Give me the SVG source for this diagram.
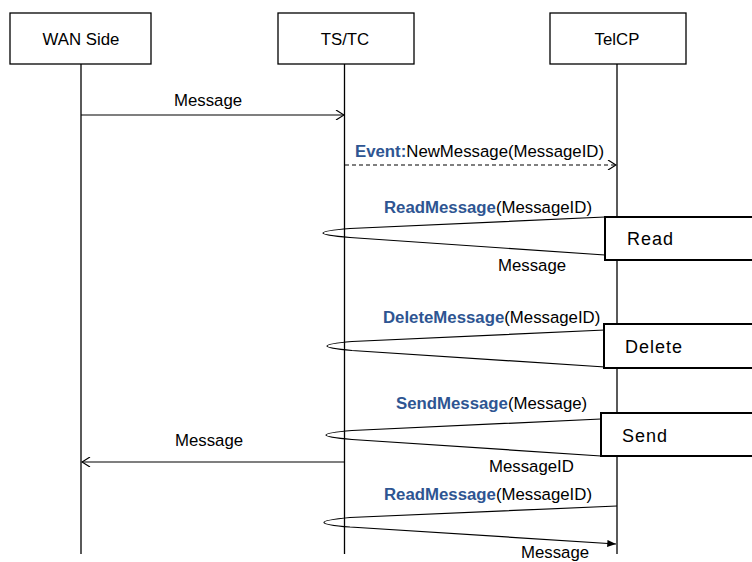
<svg xmlns="http://www.w3.org/2000/svg" width="752" height="562" viewBox="0 0 752 562">
<style>
  text { font-family: "Liberation Sans", Arial, sans-serif; font-size: 16.8px; fill: #000; }
  .b { font-weight: bold; fill: #2E5592; }
  .hdr { fill: #fff; stroke: #000; stroke-width: 1.3; }
  .life { stroke: #000; stroke-width: 1.3; fill: none; }
  .msg { stroke: #000; stroke-width: 1.2; fill: none; }
  .dash { stroke-dasharray: 4 3; }
  .act { fill: #fff; stroke: #000; stroke-width: 2; }
  .acttxt { font-size: 18px; letter-spacing: 1px; }
</style>
<defs>
  <marker id="open" viewBox="0 0 10 10" refX="9" refY="5" markerWidth="10" markerHeight="10" markerUnits="userSpaceOnUse" orient="auto">
    <path d="M1,0 L9,5 L1,10" fill="none" stroke="#000" stroke-width="1.2"/>
  </marker>
  <marker id="fill" viewBox="0 0 10 8" refX="10" refY="4" markerWidth="9" markerHeight="7" markerUnits="userSpaceOnUse" orient="auto">
    <path d="M0,0 L10,4 L0,8 Z" fill="#000"/>
  </marker>
</defs>
<rect width="752" height="562" fill="#fff"/>

<g id="wan">
  <rect class="hdr" x="10" y="13" width="141" height="51"/>
  <text x="81" y="45" text-anchor="middle">WAN Side</text>
  <line class="life" x1="81" y1="64" x2="81" y2="554"/>
</g>
<g id="tstc">
  <rect class="hdr" x="278" y="13" width="136" height="51"/>
  <text x="345" y="45" text-anchor="middle">TS/TC</text>
  <line class="life" x1="344.5" y1="64" x2="344.5" y2="554"/>
</g>
<g id="telcp">
  <rect class="hdr" x="550" y="13" width="136" height="51"/>
  <text x="617" y="45" text-anchor="middle">TelCP</text>
  <line class="life" x1="617" y1="64" x2="617" y2="554"/>
</g>

<g id="connectors">
  <line class="msg" x1="81" y1="115" x2="344" y2="115" marker-end="url(#open)"/>
  <text x="208" y="106" text-anchor="middle">Message</text>

  <line class="msg dash" x1="345" y1="165" x2="616" y2="165" marker-end="url(#open)"/>
  <text x="355" y="157"><tspan class="b">Event:</tspan>NewMessage(MessageID)</text>

  <path class="msg" d="M605,217 L350,228.5 Q296,233 350,237.5 L605,255"/>
  <text x="384" y="213"><tspan class="b">ReadMessage</tspan>(MessageID)</text>
  <text x="498" y="271">Message</text>

  <path class="msg" d="M605,330 L352,341.5 Q302,346 352,350.5 L605,367"/>
  <text x="383" y="323"><tspan class="b">DeleteMessage</tspan>(MessageID)</text>

  <path class="msg" d="M601,419 L352,430.5 Q300,435 352,439.5 L601,456"/>
  <text x="396" y="409"><tspan class="b">SendMessage</tspan>(Message)</text>
  <text x="489" y="472">MessageID</text>

  <line class="msg" x1="344" y1="462" x2="82" y2="462" marker-end="url(#open)"/>
  <text x="175" y="446">Message</text>

  <path class="msg" d="M617,506 L350,517.5 Q298,522.5 350,527 L616,544" marker-end="url(#fill)"/>
  <text x="384" y="500"><tspan class="b">ReadMessage</tspan>(MessageID)</text>
  <text x="521" y="558">Message</text>
</g>

<g id="read">
  <rect class="act" x="605" y="217" width="152" height="43"/>
  <text class="acttxt" x="627" y="245">Read</text>
</g>
<g id="delete">
  <rect class="act" x="604" y="324" width="153" height="44"/>
  <text class="acttxt" x="625" y="353">Delete</text>
</g>
<g id="send">
  <rect class="act" x="601" y="413" width="156" height="43"/>
  <text class="acttxt" x="622" y="442">Send</text>
</g>
</svg>
